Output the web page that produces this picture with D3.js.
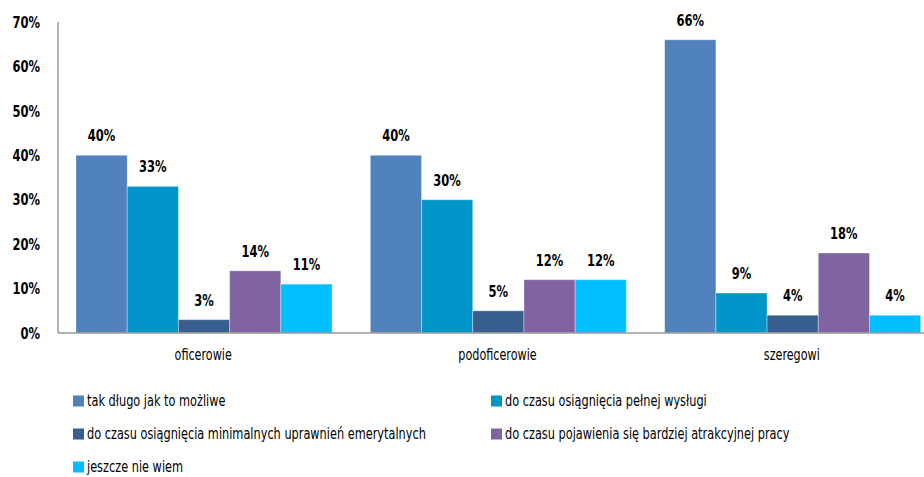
<!DOCTYPE html>
<html>
<head>
<meta charset="utf-8">
<style>
  body { margin: 0; background: #fff; }
  svg { display: block; }
  text { font-family: "Liberation Sans Narrow", "DejaVu Sans Condensed", sans-serif; fill: #000; }
</style>
<script src="https://cdn.jsdelivr.net/npm/d3@7"></script>
</head>
<body>
<svg id="chart" width="924" height="477"></svg>
<script>
// data
var groups = ["oficerowie", "podoficerowie", "szeregowi"];
var series = [
  "tak długo jak to możliwe",
  "do czasu osiągnięcia pełnej wysługi",
  "do czasu osiągnięcia minimalnych uprawnień emerytalnych",
  "do czasu pojawienia się bardziej atrakcyjnej pracy",
  "jeszcze nie wiem"
];
var colors = ["#4F81BD", "#0095C8", "#385E8F", "#8064A2", "#00BEFF"];
var values = [
  [40, 33, 3, 14, 11],   // oficerowie
  [40, 30, 5, 12, 12],   // podoficerowie
  [66, 9, 4, 18, 4]      // szeregowi
];
var yTicks = [0, 10, 20, 30, 40, 50, 60, 70];

var svg = d3.select("#chart");

var y = d3.scaleLinear().domain([0, 70]).range([333, 22]);
var x0 = d3.scaleBand().domain(groups).range([57, 940]);
var x1 = d3.scaleBand().domain(d3.range(series.length)).range([19, 275]);

// the original font is a narrow one, so squeeze the text sideways
function place(sel, fx, fy, sx) {
  sel.attr("transform", function(d, i){
    return "translate(" + fx(d, i) + "," + fy(d, i) + ") scale(" + sx + ",1)";
  });
}

// y axis
svg.append("line")
  .attr("x1", 58).attr("x2", 58)
  .attr("y1", y(70)).attr("y2", y(0))
  .attr("stroke", "#9a9a9a").attr("stroke-width", 1.5);

svg.selectAll(".ytick").data(yTicks).enter().append("text")
  .attr("class", "ytick")
  .attr("dy", "0.36em")
  .attr("text-anchor", "end")
  .style("font-size", "16px").style("font-weight", "bold")
  .text(function(d){ return d + "%"; })
  .call(place, function(){ return 40; }, function(d){ return y(d); }, 0.8);

// bars
var g = svg.selectAll(".grp").data(groups).enter().append("g")
  .attr("class", "grp")
  .attr("transform", function(d){ return "translate(" + x0(d) + ",0)"; });

g.selectAll("rect").data(function(d, i){ return values[i]; }).enter().append("rect")
  .attr("x", function(d, j){ return x1(j); })
  .attr("y", function(d){ return y(d); })
  .attr("width", x1.bandwidth())
  .attr("height", function(d){ return y(0) - y(d); })
  .attr("fill", function(d, j){ return colors[j]; })
  .attr("stroke", "rgba(255,255,255,0.35)").attr("stroke-width", 1);

g.selectAll(".val").data(function(d, i){ return values[i]; }).enter().append("text")
  .attr("class", "val")
  .attr("text-anchor", "middle")
  .style("font-size", "16px").style("font-weight", "bold")
  .text(function(d){ return d + "%"; })
  .call(place, function(d, j){ return x1(j) + x1.bandwidth() / 2; },
               function(d){ return y(d) - 14; }, 0.8);

// x axis
svg.append("line")
  .attr("x1", 58).attr("x2", 924)
  .attr("y1", y(0)).attr("y2", y(0))
  .attr("stroke", "#9a9a9a").attr("stroke-width", 1.5);

svg.selectAll(".xlab").data(groups).enter().append("text")
  .attr("class", "xlab")
  .attr("text-anchor", "middle")
  .style("font-size", "15px")
  .text(function(d){ return d; })
  .call(place, function(d){ return x0(d) + x0.bandwidth() / 2 - 1; },
               function(){ return 360; }, 0.83);

// legend
var leg = svg.selectAll(".leg").data(series).enter().append("g")
  .attr("class", "leg")
  .attr("transform", function(d, i){
    return "translate(" + (i % 2 ? 491 : 73) + "," + (401 + Math.floor(i / 2) * 33) + ")";
  });
leg.append("rect")
  .attr("x", 0).attr("y", -5.5).attr("width", 11).attr("height", 11)
  .attr("fill", function(d, i){ return colors[i]; });
leg.append("text")
  .attr("dy", "0.35em")
  .style("font-size", "15px")
  .text(function(d){ return d; })
  .call(place, function(){ return 14; }, function(){ return 0; }, 0.84);
</script>
</body>
</html>
